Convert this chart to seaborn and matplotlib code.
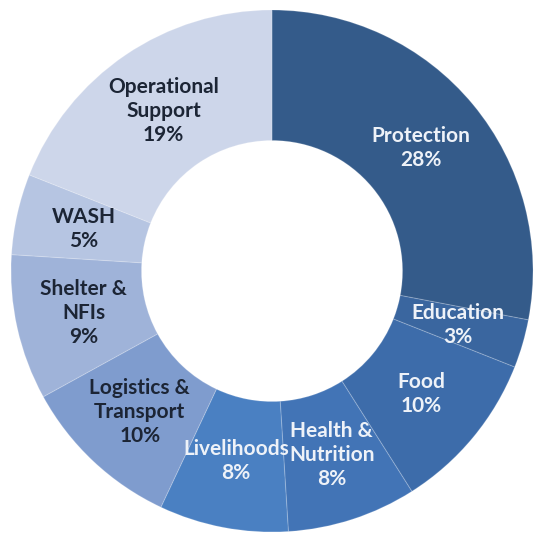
import matplotlib
matplotlib.use("Agg")
import matplotlib.pyplot as plt
import seaborn as sns
import numpy as np

# sector shares, clockwise from 12 o'clock
sectors = ["Protection", "Education", "Food", "Health &\nNutrition", "Livelihoods",
           "Logistics &\nTransport", "Shelter &\nNFIs", "WASH", "Operational\nSupport"]
shares = [28, 3, 10, 8, 8, 10, 9, 5, 19]
colors = ["#345b8a", "#3a669f", "#3d6caa", "#4274b6", "#4a80c2",
          "#7f9cce", "#9fb3d9", "#b6c5e2", "#cdd6ea"]
text_colors = ["#eef2f8"] * 5 + ["#1c2535"] * 4

sns.set_style("white")
plt.rcParams["font.family"] = ["Lato", "DejaVu Sans"]

fig = plt.figure(figsize=(5.45, 5.38), dpi=100)
ax = fig.add_axes([0, 0, 1, 1])

wedges, texts = ax.pie(shares, colors=colors, startangle=90, counterclock=False,
                       radius=1.0, labels=None,
                       wedgeprops=dict(width=0.5, edgecolor=(1, 1, 1, 0.18), linewidth=0.8))

# labels sit in the middle of the ring
cum = np.cumsum([0] + shares)
for i, (name, val) in enumerate(zip(sectors, shares)):
    mid = np.deg2rad(90 - (cum[i] + val / 2) / 100 * 360)
    r = 0.74
    ax.text(r * np.cos(mid), r * np.sin(mid), f"{name}\n{val}%",
            ha="center", va="center", fontsize=15, fontweight="bold",
            color=text_colors[i], linespacing=1.25)

ax.set_xlim(-272 / 261, 273 / 261)
ax.set_ylim(-267 / 261, 271 / 261)
ax.set_aspect("auto")
ax.axis("off")

fig.savefig("out.png", dpi=100)
